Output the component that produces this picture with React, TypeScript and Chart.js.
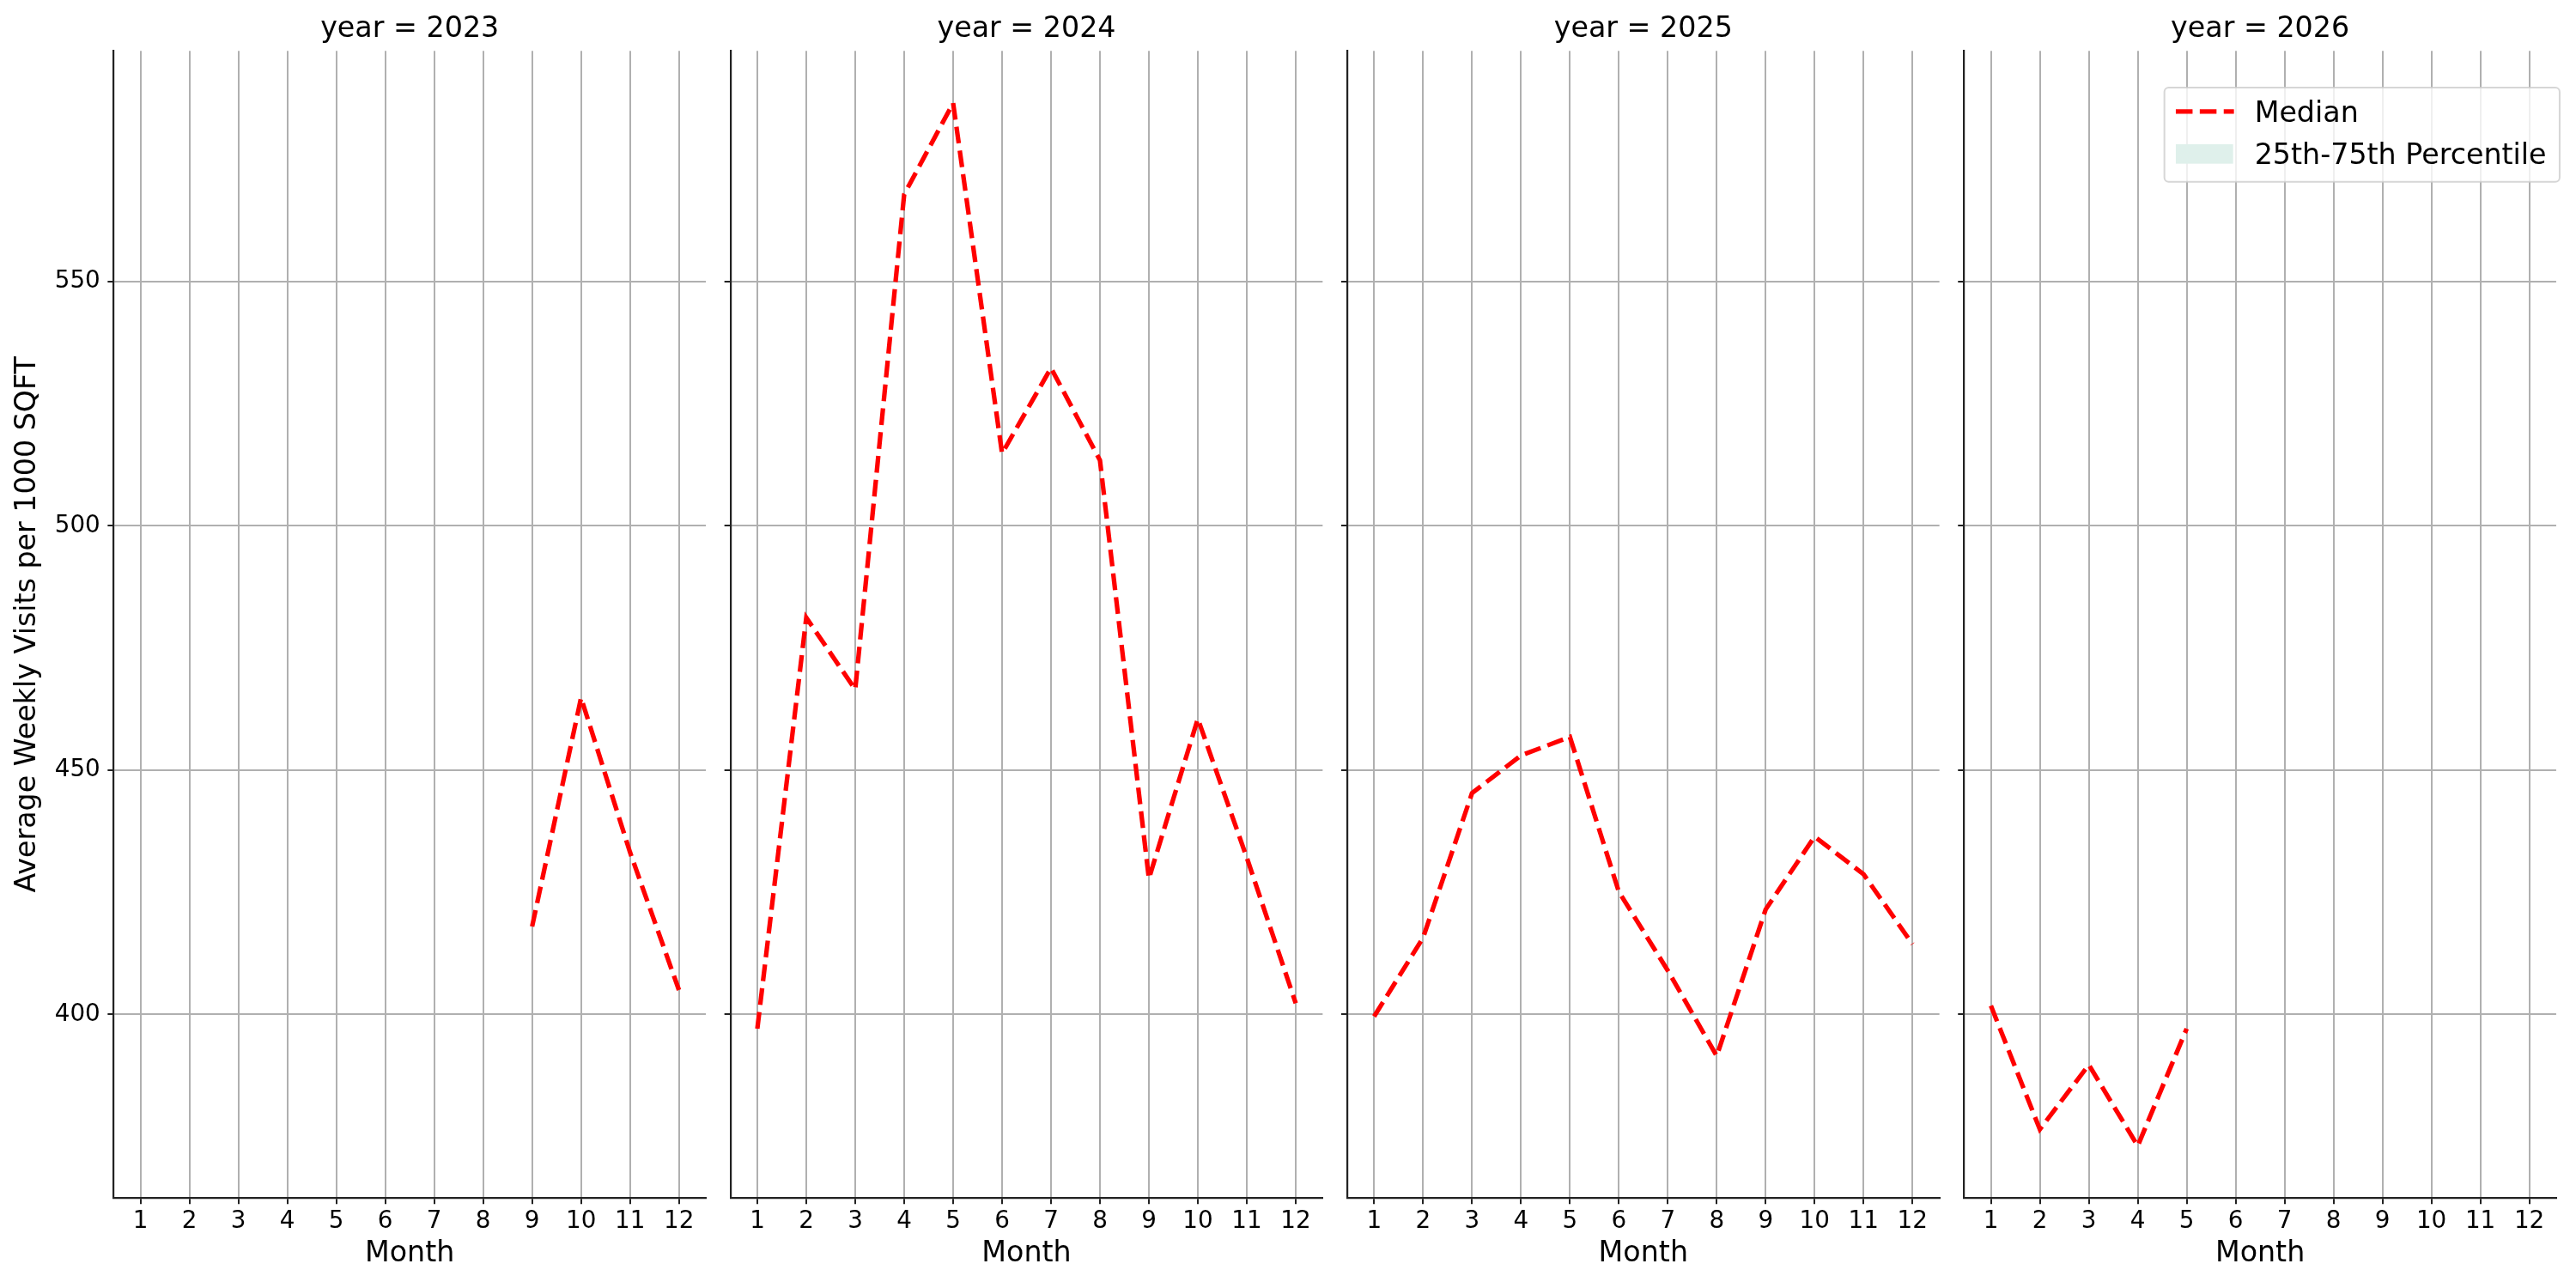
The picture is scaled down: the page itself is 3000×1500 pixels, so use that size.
import React, { useEffect, useRef } from 'react';
import { Chart, registerables } from 'chart.js';

Chart.register(...registerables);

// ---------------- data ----------------
const YEARS = [2023, 2024, 2025, 2026];
const MONTHS = [1, 2, 3, 4, 5, 6, 7, 8, 9, 10, 11, 12];
const MEDIAN_2023: (number | null)[] = [null, null, null, null, null, null, null, null, 418.0, 464.8, 433.2, 405.0];
const MEDIAN_2024: (number | null)[] = [397.1, 481.2, 466.5, 567.8, 586.5, 514.8, 532.3, 513.4, 427.8, 460.5, 432.1, 402.3];
const MEDIAN_2025: (number | null)[] = [399.6, 415.7, 445.3, 453.0, 456.8, 425.1, 409.0, 391.5, 421.5, 436.4, 428.7, 414.4];
const MEDIAN_2026: (number | null)[] = [401.8, 376.5, 389.7, 373.1, 397.1, null, null, null, null, null, null, null];
const SERIES = [MEDIAN_2023, MEDIAN_2024, MEDIAN_2025, MEDIAN_2026];
const Y_TICKS = [400, 450, 500, 550];
const LEGEND_LABELS = ['Median', '25th-75th Percentile'];
const X_LABEL = 'Month';
const Y_LABEL = 'Average Weekly Visits per 1000 SQFT';

// ---------------- layout / style ----------------
const CANVAS_W = 3000;
const CANVAS_H = 1500;
const PANEL_X0 = 132.35;
const PANEL_W = 689.7;
const PANEL_GAP = 28.6;
const PANEL_BOTTOM = 1395.3;
const X_AXIS_H = 100;
const FONT = 'DejaVu Sans';
const GRID = '#b0b0b0';
const SPINE = '#222222';
const LINE_RED = '#ff0000';
const PATCH = '#dff0eb';

// autoscale like matplotlib (5% margins)
const allVals = SERIES.flat().filter((v): v is number => v !== null);
const yLo = Math.min(...allVals);
const yHi = Math.max(...allVals);
const yMargin = (yHi - yLo) * 0.05;
const xMargin = (MONTHS[MONTHS.length - 1] - MONTHS[0]) * 0.05;

const legendPlugin = {
  id: 'facetLegend',
  afterDraw(chart: any) {
    const { ctx, chartArea } = chart;
    const boxW = 460.3;
    const boxH = 109.7;
    const x0 = chartArea.right + 4 - boxW;
    const y0 = chartArea.top + 42.7;
    ctx.save();
    ctx.beginPath();
    ctx.roundRect(x0, y0, boxW, boxH, 5);
    ctx.fillStyle = 'rgba(255,255,255,0.8)';
    ctx.fill();
    ctx.strokeStyle = 'rgba(204,204,204,0.8)';
    ctx.lineWidth = 2;
    ctx.stroke();
    // Median handle
    ctx.beginPath();
    ctx.setLineDash([19.5, 8.4]);
    ctx.strokeStyle = LINE_RED;
    ctx.lineWidth = 5.3;
    ctx.moveTo(x0 + 13.3, y0 + 28);
    ctx.lineTo(x0 + 81, y0 + 28);
    ctx.stroke();
    ctx.setLineDash([]);
    // percentile patch
    ctx.fillStyle = PATCH;
    ctx.fillRect(x0 + 13.3, y0 + 66, 66.7, 22.7);
    // texts
    ctx.fillStyle = '#000';
    ctx.font = `33.3px "${FONT}"`;
    ctx.textBaseline = 'alphabetic';
    ctx.textAlign = 'left';
    ctx.fillText(LEGEND_LABELS[0], x0 + 105, y0 + 40.3);
    ctx.fillText(LEGEND_LABELS[1], x0 + 105, y0 + 89);
    ctx.restore();
  },
};

function Panel({ index }: { index: number }) {
  const ref = useRef<HTMLCanvasElement | null>(null);

  useEffect(() => {
    if (!ref.current) return;
    const left = PANEL_X0 + index * (PANEL_W + PANEL_GAP);
    const right = left + PANEL_W;
    const yAxisW = index === 0 ? left : 7;
    const series = SERIES[index];

    const chart = new Chart(ref.current, {
      type: 'line',
      data: {
        datasets: [
          {
            label: LEGEND_LABELS[0],
            data: MONTHS.map((m, i) => ({ x: m, y: series[i] })) as any,
            borderColor: LINE_RED,
            borderWidth: 5.3,
            borderDash: [19.5, 8.4],
            pointRadius: 0,
            pointHoverRadius: 0,
            tension: 0,
            fill: false,
            spanGaps: false,
          },
        ],
      },
      options: {
        animation: false,
        responsive: false,
        devicePixelRatio: 1,
        events: [],
        layout: {
          padding: {
            left: left - yAxisW,
            right: CANVAS_W - right,
            top: 0,
            bottom: CANVAS_H - PANEL_BOTTOM - X_AXIS_H,
          },
        },
        plugins: {
          legend: { display: false },
          tooltip: { enabled: false },
          title: {
            display: true,
            text: `year = ${YEARS[index]}`,
            fullSize: false,
            color: '#000',
            font: { family: FONT, size: 33.3, weight: 'normal', lineHeight: 1.2 },
            padding: { top: 14.7, bottom: 4.6 },
          },
        },
        scales: {
          x: {
            type: 'linear',
            min: MONTHS[0] - xMargin,
            max: MONTHS[MONTHS.length - 1] + xMargin,
            afterBuildTicks: (axis: any) => {
              axis.ticks = MONTHS.map((v) => ({ value: v }));
            },
            afterFit: (scale: any) => {
              scale.height = X_AXIS_H;
            },
            grid: {
              color: GRID,
              lineWidth: 2,
              drawTicks: true,
              tickLength: 7,
              tickColor: SPINE,
              tickWidth: 2,
            },
            border: { display: true, color: SPINE, width: 2.2 },
            ticks: {
              color: '#000',
              padding: 3.4,
              maxRotation: 0,
              autoSkip: false,
              font: { family: FONT, size: 27.8 },
              callback: (v: any) => String(v),
            },
            title: {
              display: true,
              text: X_LABEL,
              color: '#000',
              font: { family: FONT, size: 33.3, lineHeight: 1.2 },
              padding: { top: 0, bottom: 14.95 },
            },
          },
          y: {
            type: 'linear',
            min: yLo - yMargin,
            max: yHi + yMargin,
            afterBuildTicks: (axis: any) => {
              axis.ticks = Y_TICKS.map((v) => ({ value: v }));
            },
            afterFit: (scale: any) => {
              scale.width = yAxisW;
            },
            grid: {
              color: GRID,
              lineWidth: 2,
              drawTicks: true,
              tickLength: 7,
              tickColor: SPINE,
              tickWidth: 2,
            },
            border: { display: true, color: SPINE, width: 2.2 },
            ticks: {
              display: index === 0,
              color: '#000',
              padding: 8.6,
              font: { family: FONT, size: 27.8 },
              callback: (v: any) => String(v),
            },
            title: {
              display: index === 0,
              text: Y_LABEL,
              color: '#000',
              font: { family: FONT, size: 33.3, lineHeight: 1.2 },
              padding: { top: 12.8, bottom: 0 },
            },
          },
        },
      } as any,
      plugins: index === YEARS.length - 1 ? [legendPlugin] : [],
    });
    return () => chart.destroy();
  }, [index]);

  return (
    <canvas
      ref={ref}
      width={CANVAS_W}
      height={CANVAS_H}
      style={{ position: 'absolute', left: 0, top: 0, width: CANVAS_W, height: CANVAS_H }}
    />
  );
}

export default function App() {
  return (
    <div
      style={{
        position: 'absolute',
        left: 0,
        top: 0,
        width: CANVAS_W,
        height: CANVAS_H,
        background: '#ffffff',
        overflow: 'hidden',
      }}
    >
      {YEARS.map((y, i) => (
        <Panel key={y} index={i} />
      ))}
    </div>
  );
}
